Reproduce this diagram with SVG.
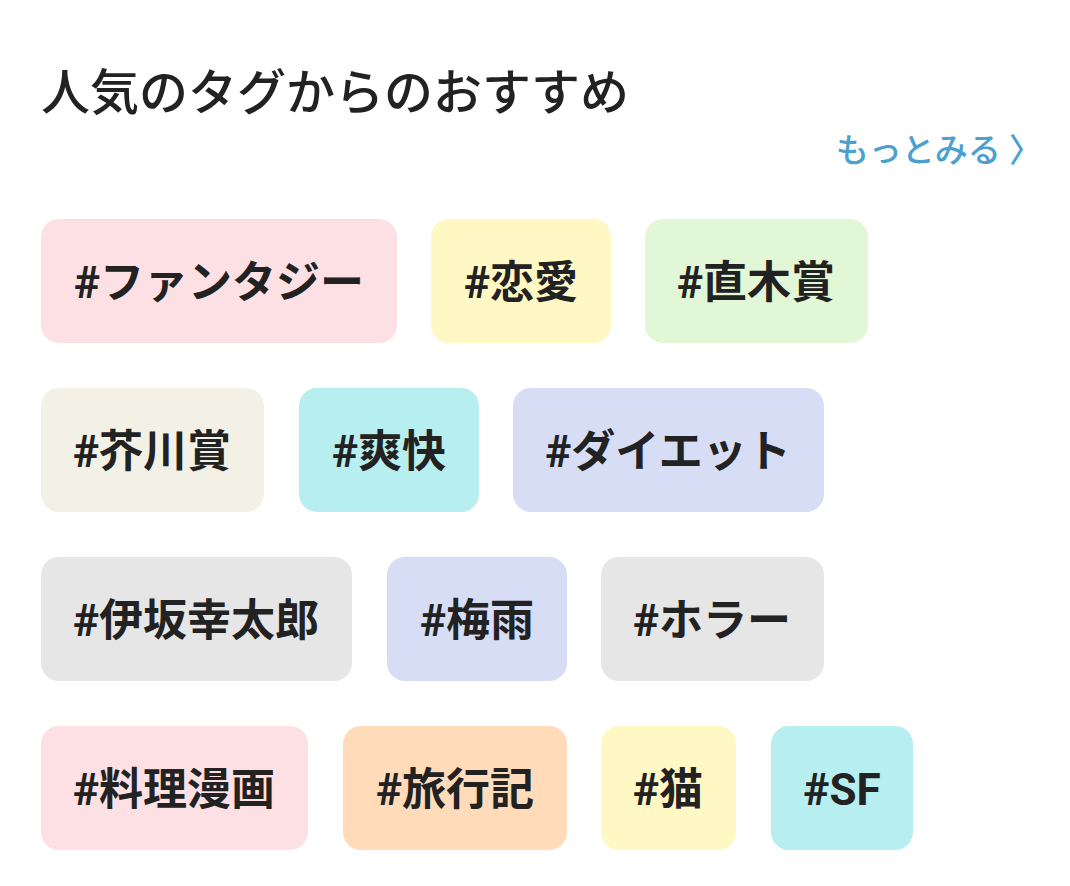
<svg xmlns="http://www.w3.org/2000/svg" width="1070" height="886" viewBox="0 0 1070 886">
<style>
.t{font-family:Roboto,"Noto Sans CJK JP",sans-serif;font-weight:700;font-size:44px;fill:#222;text-anchor:middle}
.pink{fill:#fde0e3}.yel{fill:#fff7c4}.grn{fill:#e2f7d6}.bei{fill:#f3f1e6}.cy{fill:#b7eff0}.lav{fill:#d6ddf5}.gry{fill:#e6e6e6}.pch{fill:#ffdbb9}
</style>
<rect width="1070" height="886" fill="#fff"/>
<text x="41" y="110" font-family="Roboto,'Noto Sans CJK JP',sans-serif" font-weight="500" font-size="49" fill="#222">人気のタグからのおすすめ</text>
<text x="1042" y="162" font-family="Roboto,'Noto Sans CJK JP',sans-serif" font-weight="500" font-size="33" fill="#4aa0cf" text-anchor="end">もっとみる 〉</text>
<g id="t1"><rect class="pink" x="41" y="219" width="356" height="124" rx="18"/><text class="t" x="219" y="298">#ファンタジー</text></g>
<g id="t2"><rect class="yel" x="431" y="219" width="180" height="124" rx="18"/><text class="t" x="521" y="298">#恋愛</text></g>
<g id="t3"><rect class="grn" x="645" y="219" width="223" height="124" rx="18"/><text class="t" x="756" y="298">#直木賞</text></g>
<g id="t4"><rect class="bei" x="41" y="388" width="223" height="124" rx="18"/><text class="t" x="152" y="467">#芥川賞</text></g>
<g id="t5"><rect class="cy" x="299" y="388" width="180" height="124" rx="18"/><text class="t" x="389" y="467">#爽快</text></g>
<g id="t6"><rect class="lav" x="513" y="388" width="311" height="124" rx="18"/><text class="t" x="668" y="467">#ダイエット</text></g>
<g id="t7"><rect class="gry" x="41" y="557" width="311" height="124" rx="18"/><text class="t" x="196" y="636">#伊坂幸太郎</text></g>
<g id="t8"><rect class="lav" x="387" y="557" width="180" height="124" rx="18"/><text class="t" x="477" y="636">#梅雨</text></g>
<g id="t9"><rect class="gry" x="601" y="557" width="223" height="124" rx="18"/><text class="t" x="712" y="636">#ホラー</text></g>
<g id="t10"><rect class="pink" x="41" y="726" width="267" height="124" rx="18"/><text class="t" x="174" y="805">#料理漫画</text></g>
<g id="t11"><rect class="pch" x="343" y="726" width="224" height="124" rx="18"/><text class="t" x="455" y="805">#旅行記</text></g>
<g id="t12"><rect class="yel" x="601" y="726" width="135" height="124" rx="18"/><text class="t" x="668" y="805">#猫</text></g>
<g id="t13"><rect class="cy" x="771" y="726" width="142" height="124" rx="18"/><text class="t" x="842" y="805">#SF</text></g>
<g id="connectors"/>
</svg>
